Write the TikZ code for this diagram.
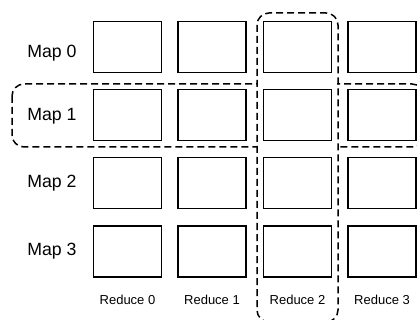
\documentclass[tikz,border=0pt]{standalone}
\usepackage{fontspec}
\setmainfont{Liberation Sans}
\begin{document}
\begin{tikzpicture}[x=1pt,y=-1pt,
  cell/.style={draw=black, line width=1.6pt, fill=white, minimum width=68pt, minimum height=51pt, inner sep=0pt},
  maplabel/.style={font=\fontsize{17.7}{20}\selectfont, anchor=base, inner sep=0pt},
  redlabel/.style={font=\fontsize{13}{15}\selectfont, anchor=base, inner sep=0pt},
  group/.style={draw=black, line width=1.5pt, dash pattern=on 7pt off 4pt, rounded corners=12pt}]
\useasboundingbox (0,0) rectangle (417,320);
% row group (Map 1)
\draw[group] (12,84) rectangle (424,147);
\fill[white] (257.8,80) rectangle (337.2,151);
% column group (Reduce 2)
\draw[group] (257,13) rectangle (338,322);
% cells
\foreach \r/\y in {0/47.2,1/115,2/183,3/251.5}{
  \foreach \c/\x in {0/127.5,1/212,2/297.5,3/382}{
    \node[cell] (b\r\c) at (\x,\y) {};
  }
}
% labels
\node[maplabel] (m0) at (52,57.7) {Map 0};
\node[maplabel] (m1) at (52,120.7) {Map 1};
\node[maplabel] (m2) at (52,187.7) {Map 2};
\node[maplabel] (m3) at (52,255) {Map 3};
\node[redlabel] (r0) at (127.5,304.3) {Reduce 0};
\node[redlabel] (r1) at (212,304.3) {Reduce 1};
\node[redlabel] (r2) at (297.5,304.3) {Reduce 2};
\node[redlabel] (r3) at (382,304.3) {Reduce 3};
\end{tikzpicture}
\end{document}
